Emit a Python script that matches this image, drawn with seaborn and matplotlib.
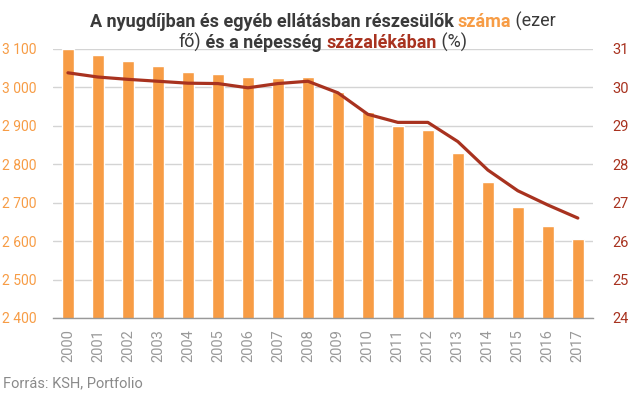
import numpy as np
import pandas as pd
import seaborn as sns
import matplotlib.pyplot as plt
from matplotlib.ticker import FuncFormatter

# ======================
# Data
# ======================
years = [str(y) for y in range(2000, 2018)]
recipients = [3100, 3084, 3069, 3056, 3040, 3035, 3027, 3025, 3027, 2988,
              2935, 2900, 2889, 2830, 2754, 2689, 2640, 2606]   # ezer fő
share_pct = [30.38, 30.27, 30.21, 30.16, 30.11, 30.10, 29.99, 30.10, 30.16, 29.86,
             29.30, 29.09, 29.09, 28.59, 27.85, 27.31, 26.94, 26.60]  # %

left_ticks = [2400, 2500, 2600, 2700, 2800, 2900, 3000, 3100]
right_ticks = [24, 25, 26, 27, 28, 29, 30, 31]

ORANGE = '#F79C45'
RED = '#A8321F'
DARK = '#3a3a3a'
GRAY = '#8a8a8a'

df = pd.DataFrame({'year': years, 'recipients': recipients, 'share': share_pct})
df['pos'] = np.arange(len(df))

sns.set_style('white')
plt.rcParams['font.family'] = ['Roboto', 'DejaVu Sans']

fig = plt.figure(figsize=(6.3, 3.95), dpi=100)
ax = fig.add_axes([0.084, 0.195, 0.857, 0.681])

# ======================
# Bars (left axis)
# ======================
sns.barplot(data=df, x='year', y='recipients', color=ORANGE, width=0.4,
            saturation=1, ax=ax, zorder=2)
ax.set_ylim(2400, 3100)
ax.set_yticks(left_ticks)
ax.yaxis.set_major_formatter(FuncFormatter(lambda v, p: f'{int(v):,}'.replace(',', ' ')))
ax.set_xlim(-0.5, len(years) - 0.5)
ax.set_xlabel('')
ax.set_ylabel('')
ax.grid(axis='y', color='#d4d4d4', linewidth=1, zorder=0)
ax.set_axisbelow(True)
for s in ['top', 'right', 'left']:
    ax.spines[s].set_visible(False)
ax.spines['bottom'].set_color('#999999')
ax.spines['bottom'].set_linewidth(1)
ax.tick_params(axis='y', length=0, labelsize=10, labelcolor=ORANGE, pad=11.5)
ax.tick_params(axis='x', length=0, labelsize=10.5, labelcolor='#999999', pad=8,
               labelrotation=90)

# ======================
# Line (right axis)
# ======================
ax2 = ax.twinx()
sns.lineplot(data=df, x='pos', y='share', color=RED, linewidth=2.3, ax=ax2, zorder=3)
ax2.set_ylim(24, 31)
ax2.set_yticks(right_ticks)
ax2.set_xlim(-0.5, len(years) - 0.5)
ax2.set_ylabel('')
ax2.set_xlabel('')
for s in ['top', 'right', 'left', 'bottom']:
    ax2.spines[s].set_visible(False)
ax2.tick_params(axis='y', length=0, labelsize=10.5, labelcolor=RED, pad=14)

# ======================
# Multi-colour title
# ======================
def colored_line(parts, y, size=13):
    fig.canvas.draw()
    r = fig.canvas.get_renderer()
    texts = []
    for s, c, w in parts:
        t = fig.text(0, y, s, color=c, fontweight=w, fontsize=size, va='baseline')
        texts.append(t)
    widths = [t.get_window_extent(r).width for t in texts]
    total = sum(widths)
    cx = (0.084 + 0.941) / 2 * fig.bbox.width
    x = cx - total / 2
    for t, w in zip(texts, widths):
        t.set_x(x / fig.bbox.width)
        x += w

colored_line([('A nyugdíjban és egyéb ellátásban részesülők ', DARK, 'bold'),
              ('száma', ORANGE, 'bold'),
              (' (ezer', DARK, 'normal')], 1 - 27 / 395)
colored_line([('fő)', DARK, 'normal'),
              (' és a népesség ', DARK, 'bold'),
              ('százalékában', RED, 'bold'),
              (' (%)', DARK, 'normal')], 1 - 48 / 395)

fig.text(3 / 630, 1 - 387 / 395, 'Forrás: KSH, Portfolio', color=GRAY, fontsize=10.5,
         va='baseline')

fig.savefig('out.png', dpi=100)
